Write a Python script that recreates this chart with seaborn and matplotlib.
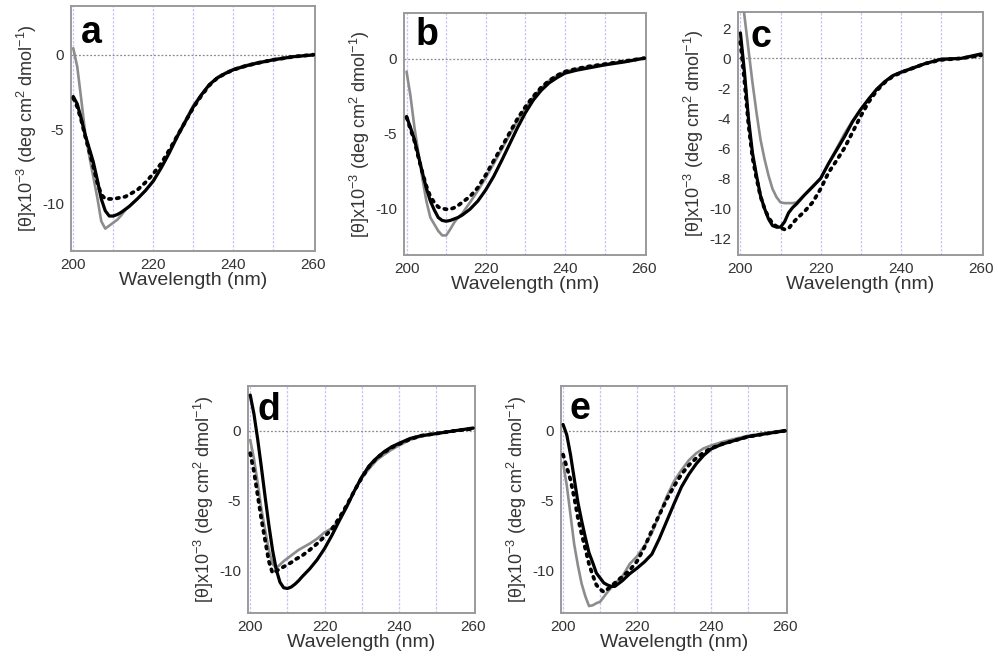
import numpy as np
import pandas as pd
import matplotlib
matplotlib.use("Agg")
import matplotlib.pyplot as plt
import seaborn as sns

sns.set_style("white")
plt.rcParams['font.family'] = ['Liberation Sans', 'DejaVu Sans']
plt.rcParams['axes.unicode_minus'] = False
plt.rcParams['mathtext.default'] = 'regular'

wavelength = [200, 201, 202, 203, 204, 205, 206, 207, 208, 209, 210, 211, 212, 213, 214,
              216, 218, 220, 222, 224, 226, 228, 230, 232, 234, 236, 238, 240, 243, 246, 250, 255, 260]

a_gray = [0.45, -0.8, -3.0, -5.3, -6.8, -8.2, -9.6, -11.2, -11.7, -11.5, -11.3, -11.1, -10.8, -10.45, -10.2,
          -9.7, -9.15, -8.45, -7.55, -6.5, -5.4, -4.4, -3.4, -2.65, -2.0, -1.5, -1.2, -0.95, -0.7, -0.5, -0.3, -0.1, 0.02]
a_black = [-2.8, -3.3, -4.3, -5.4, -6.3, -7.2, -8.4, -9.7, -10.5, -10.85, -10.85, -10.75, -10.6, -10.4, -10.2,
           -9.7, -9.15, -8.5, -7.6, -6.6, -5.5, -4.5, -3.5, -2.7, -2.0, -1.55, -1.25, -1.0, -0.75, -0.55, -0.33, -0.12, 0.0]
a_dot = [-2.9, -3.5, -4.4, -5.5, -6.5, -7.5, -8.6, -9.4, -9.7, -9.7, -9.7, -9.65, -9.6, -9.55, -9.4,
         -9.1, -8.6, -8.0, -7.3, -6.4, -5.45, -4.5, -3.55, -2.75, -2.05, -1.55, -1.25, -1.0, -0.75, -0.55, -0.33, -0.12, 0.02]

b_gray = [-0.85, -2.5, -4.6, -6.3, -8.0, -9.5, -10.6, -11.05, -11.5, -11.8, -11.8, -11.4, -10.95, -10.6, -10.35,
          -9.6, -8.8, -7.95, -7.0, -6.05, -5.1, -4.15, -3.3, -2.55, -1.95, -1.45, -1.1, -0.85, -0.65, -0.5, -0.35, -0.15, 0.05]
b_black = [-3.85, -4.6, -5.4, -6.5, -7.6, -8.65, -9.5, -10.1, -10.6, -10.8, -10.85, -10.8, -10.7, -10.6, -10.45,
           -10.05, -9.5, -8.75, -7.85, -6.8, -5.7, -4.6, -3.6, -2.75, -2.1, -1.6, -1.25, -0.95, -0.75, -0.6, -0.4, -0.2, 0.05]
b_dot = [-3.9, -4.7, -5.5, -6.6, -7.6, -8.5, -9.2, -9.6, -9.9, -10.0, -10.05, -10.05, -9.95, -9.8, -9.6,
         -9.2, -8.6, -7.75, -6.8, -5.9, -4.95, -4.0, -3.2, -2.5, -1.9, -1.45, -1.1, -0.85, -0.65, -0.5, -0.35, -0.15, 0.05]

c_gray = [5.0, 2.85, 0.6, -1.6, -3.6, -5.4, -6.7, -7.8, -8.7, -9.25, -9.6, -9.65, -9.65, -9.65, -9.6,
          -9.1, -8.6, -8.0, -7.0, -6.0, -5.0, -4.15, -3.4, -2.7, -2.05, -1.55, -1.15, -0.9, -0.6, -0.35, -0.1, 0.0, 0.2]
c_black = [1.7, -0.9, -4.0, -6.3, -7.8, -9.15, -10.0, -10.7, -11.15, -11.25, -11.25, -10.9, -10.3, -9.95, -9.7,
           -9.1, -8.55, -8.0, -7.0, -6.1, -5.2, -4.2, -3.4, -2.7, -2.05, -1.55, -1.15, -0.93, -0.65, -0.35, -0.05, 0.0, 0.3]
c_dot = [1.1, -1.5, -4.4, -6.6, -8.0, -9.2, -10.0, -10.6, -11.0, -11.2, -11.3, -11.4, -11.35, -11.0, -10.7,
         -10.2, -9.6, -8.7, -7.6, -6.8, -5.95, -4.9, -3.85, -2.9, -2.15, -1.6, -1.2, -0.95, -0.65, -0.35, -0.1, 0.0, 0.2]

d_gray = [-0.65, -2.0, -3.7, -5.6, -7.05, -8.5, -9.5, -9.8, -9.55, -9.3, -9.1, -8.9, -8.7, -8.5, -8.35,
          -8.05, -7.7, -7.25, -6.95, -6.35, -5.3, -4.3, -3.4, -2.7, -2.1, -1.7, -1.35, -1.05, -0.65, -0.4, -0.2, 0.0, 0.15]
d_black = [2.55, 1.2, -0.6, -2.6, -4.7, -6.7, -8.5, -9.9, -10.8, -11.2, -11.25, -11.15, -10.95, -10.7, -10.4,
           -9.85, -9.2, -8.4, -7.45, -6.4, -5.4, -4.3, -3.3, -2.5, -1.95, -1.5, -1.15, -0.9, -0.55, -0.35, -0.2, 0.0, 0.2]
d_dot = [-1.6, -2.9, -4.6, -6.3, -7.8, -9.3, -10.15, -10.0, -9.85, -9.7, -9.55, -9.4, -9.2, -9.05, -8.9,
         -8.5, -8.05, -7.55, -7.0, -6.2, -5.3, -4.3, -3.35, -2.55, -1.95, -1.55, -1.2, -0.95, -0.6, -0.35, -0.2, 0.0, 0.15]

e_gray = [-2.3, -3.9, -6.0, -8.1, -9.6, -10.9, -11.8, -12.5, -12.45, -12.3, -12.2, -11.85, -11.5, -11.2, -10.9,
          -10.4, -9.5, -8.95, -8.2, -7.3, -6.0, -4.7, -3.6, -2.8, -2.1, -1.6, -1.25, -1.05, -0.8, -0.6, -0.35, -0.15, 0.05]
e_black = [0.45, -0.3, -1.7, -3.4, -5.1, -6.4, -7.6, -8.7, -9.4, -10.15, -10.5, -10.85, -11.0, -11.1, -11.1,
           -10.7, -10.2, -9.8, -9.35, -8.8, -7.7, -6.45, -5.2, -4.0, -3.1, -2.35, -1.75, -1.3, -0.95, -0.72, -0.42, -0.2, 0.0]
e_dot = [-1.7, -2.6, -3.5, -4.75, -6.2, -7.35, -8.4, -9.5, -10.3, -11.0, -11.3, -11.5, -11.3, -11.1, -10.85,
         -10.4, -9.95, -9.3, -8.3, -7.1, -6.0, -4.9, -3.95, -3.1, -2.45, -1.95, -1.55, -1.25, -0.95, -0.72, -0.42, -0.2, 0.0]

panel_letters = ['a', 'b', 'c', 'd', 'e']
x_ticks = [200, 210, 220, 230, 240, 250, 260]
x_ticklabels = ['200', '', '220', '', '240', '', '260']
xlabel = 'Wavelength (nm)'
ylabel = '[θ]x10$^{-3}$ (deg cm$^{2}$ dmol$^{-1}$)'

panels = {
    'a': (a_gray, a_black, a_dot),
    'b': (b_gray, b_black, b_dot),
    'c': (c_gray, c_black, c_dot),
    'd': (d_gray, d_black, d_dot),
    'e': (e_gray, e_black, e_dot),
}

# layout (figure fractions)
rects = {
    'a': [0.071, 0.621, 0.245, 0.370],
    'b': [0.405, 0.615, 0.2425, 0.366],
    'c': [0.7395, 0.615, 0.2455, 0.367],
    'd': [0.2485, 0.074, 0.2275, 0.343],
    'e': [0.562, 0.074, 0.2265, 0.343],
}
ylims = {'a': (-13.2, 3.3), 'b': (-13.1, 3.1), 'c': (-13.1, 3.1), 'd': (-13.0, 3.2), 'e': (-13.0, 3.2)}
letter_pos = {'a': (0.04, 0.85), 'b': (0.045, 0.868), 'c': (0.05, 0.856), 'd': (0.044, 0.85), 'e': (0.04, 0.855)}

fig = plt.figure(figsize=(9.98, 6.62), dpi=100)
spine_col = '#9a9a9a'
text_col = '#333333'

for key in panel_letters:
    gray, black, dot = panels[key]
    ax = fig.add_axes(rects[key])
    df = pd.DataFrame({'wl': wavelength, 'gray': gray, 'black': black, 'dot': dot})
    for xv in [200, 210, 220, 230, 240, 250]:
        ax.axvline(xv, color='#c6c6f6', lw=0.9, ls=(0, (2, 1.2)), zorder=0)
    ax.axhline(0, color='#8a8a8a', lw=0.9, ls=(0, (1.5, 1.5)), zorder=0)
    sns.lineplot(data=df, x='wl', y='gray', ax=ax, color='#8c8c8c', lw=1.9, zorder=3)
    sns.lineplot(data=df, x='wl', y='dot', ax=ax, color='black', lw=2.7, ls=(0, (0.6, 1.5)),
                 dash_capstyle='round', zorder=4)
    sns.lineplot(data=df, x='wl', y='black', ax=ax, color='black', lw=2.3, zorder=5)
    ax.set_xlim(199.4, 260.5)
    ax.set_ylim(*ylims[key])
    ax.set_xticks(x_ticks)
    ax.set_xticklabels(x_ticklabels)
    if key == 'c':
        ax.set_yticks([2, 0, -2, -4, -6, -8, -10, -12])
    else:
        ax.set_yticks([0, -5, -10])
    ax.tick_params(axis='both', direction='out', length=3, width=1, color=spine_col,
                   labelsize=11, labelcolor=text_col, pad=2)
    for sp in ax.spines.values():
        sp.set_color(spine_col)
        sp.set_linewidth(1.4)
    ax.set_xlabel(xlabel, fontsize=14, color=text_col, labelpad=0)
    ax.set_ylabel(ylabel, fontsize=13, color=text_col, labelpad=2)
    ax.text(letter_pos[key][0], letter_pos[key][1], key, transform=ax.transAxes,
            fontsize=27, fontweight='bold', color='black', ha='left', va='baseline', zorder=6)

fig.savefig('out.png', dpi=100)
